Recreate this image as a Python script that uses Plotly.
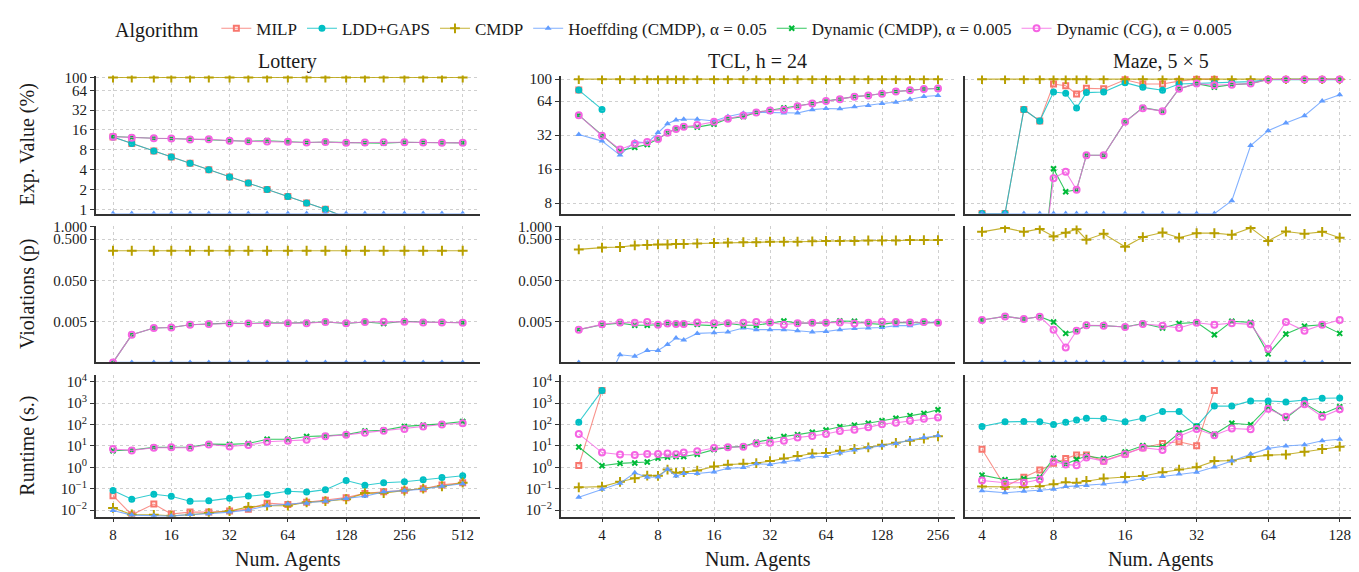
import plotly.graph_objects as go

# ---------------- data ----------------
NAMES = ["MILP", "LDD+GAPS", "CMDP", "Hoeffding (CMDP), α = 0.05",
         "Dynamic (CMDP), α = 0.005", "Dynamic (CG), α = 0.005"]

# Lottery
lot_x = [8, 10, 13, 16, 20, 25, 32, 40, 50, 64, 80, 100, 128, 160, 200, 256, 320, 400, 512]
lot_exp_milp = [12.5, 10.0, 7.7, 6.25, 5.0, 4.0, 3.1, 2.5, 2.0, 1.56, 1.25, 1.0, 0.75, None, None, None, None, None, None]
lot_exp_ldd = [12.5, 10.0, 7.7, 6.25, 5.0, 4.0, 3.1, 2.5, 2.0, 1.56, 1.25, 1.0, 0.75, None, None, None, None, None, None]
lot_exp_cmdp = [100, 100, 100, 100, 100, 100, 100, 100, 100, 100, 100, 100, 100, 100, 100, 100, 100, 100, 100]
lot_exp_hoeff = [0, 0, 0, 0, 0, 0, 0, 0, 0, 0, 0, 0, 0, 0, 0, 0, 0, 0, 0]
lot_exp_dyn = [12.7, 12.3, 12.0, 11.9, 11.6, 11.6, 11.1, 10.8, 11.0, 10.6, 10.3, 10.5, 10.2, 10.2, 10.1, 10.4, 10.3, 10.2, 10.2]
lot_exp_cg = [12.6, 12.2, 12.0, 11.9, 11.5, 11.6, 11.0, 10.8, 10.7, 10.6, 10.3, 10.5, 10.2, 10.3, 10.4, 10.4, 10.3, 10.2, 10.2]

lot_viol_milp = [None] * 19
lot_viol_ldd = [None] * 19
lot_viol_cmdp = [0.26, 0.26, 0.26, 0.26, 0.26, 0.26, 0.26, 0.26, 0.26, 0.26, 0.26, 0.26, 0.26, 0.26, 0.26, 0.26, 0.26, 0.26, 0.26]
lot_viol_hoeff = [0, 0, 0, 0, 0, 0, 0, 0, 0, 0, 0, 0, 0, 0, 0, 0, 0, 0, 0]
lot_viol_dyn = [0, 0.0024, 0.0035, 0.0036, 0.0042, 0.0044, 0.0046, 0.0045, 0.0047, 0.0046, 0.0047, 0.0049, 0.0045, 0.0049, 0.0045, 0.0051, 0.0049, 0.0048, 0.0047]
lot_viol_cg = [0, 0.0024, 0.0035, 0.0036, 0.0042, 0.0044, 0.0045, 0.0045, 0.0046, 0.0046, 0.0046, 0.0049, 0.0046, 0.0049, 0.0050, 0.0050, 0.0048, 0.0048, 0.0047]

lot_rt_milp = [0.047, 0.006, 0.019, 0.0065, 0.008, 0.008, 0.0089, 0.011, 0.021, 0.018, 0.023, 0.029, 0.038, 0.06, 0.071, 0.085, 0.10, 0.15, 0.19]
lot_rt_ldd = [0.082, 0.032, 0.055, 0.044, 0.026, 0.027, 0.036, 0.045, 0.054, 0.076, 0.069, 0.09, 0.24, 0.144, 0.19, 0.21, 0.26, 0.33, 0.40]
lot_rt_cmdp = [0.0126, 0.0062, 0.006, 0.0054, 0.006, 0.0072, 0.009, 0.014, 0.016, 0.016, 0.023, 0.026, 0.032, 0.062, 0.062, 0.082, 0.10, 0.13, 0.19]
lot_rt_hoeff = [0.0095, 0.0058, 0.0054, 0.0052, 0.0062, 0.0067, 0.008, 0.010, 0.016, 0.019, 0.021, 0.026, 0.035, 0.044, 0.071, 0.079, 0.094, 0.13, 0.17]
lot_rt_dyn = [6.0, 6.5, 8.6, 8.6, 8.9, 12.2, 11.8, 13.0, 20.7, 20.7, 27.5, 29.5, 34, 50, 54, 82, 94, 108, 139]
lot_rt_cg = [7.2, 6.2, 8.3, 8.6, 8.3, 11.8, 9.5, 11.0, 15.6, 17.4, 19.3, 28.5, 33, 42, 52, 62, 82, 101, 116]

# TCL, h = 24
tcl_x = [3, 4, 5, 6, 7, 8, 9, 10, 11, 13, 16, 19, 23, 27, 32, 38, 45, 54, 64, 76, 91, 108, 128, 152, 181, 215, 256]
tcl_exp_milp = [80] + [None] * 26
tcl_exp_ldd = [80, 54] + [None] * 25
tcl_exp_cmdp = [100] * 27
tcl_exp_hoeff = [32.4, 28.3, 21.3, 28.0, 27.2, 33.7, 40.3, 43.6, 44.2, 44.2, 42.7, 46.8, 49.9, 50.9, 50.9, 50.2, 50.2, 53.7, 54.9, 54.6, 56.9, 58.5, 60.8, 62.4, 66.4, 70.1, 71.6]
tcl_exp_dyn = [48, 31.6, 23.3, 24.9, 26.4, 29.6, 33.5, 36.3, 37.9, 37.6, 40.0, 44.7, 46.6, 50.8, 52.9, 55.5, 57.7, 60.8, 63.9, 66.5, 70.0, 71.6, 74.4, 77.8, 79.6, 81.9, 82.7]
tcl_exp_cg = [48, 31.6, 23.9, 26.8, 27.8, 29.6, 33.5, 36.3, 37.9, 39.3, 41.9, 44.7, 47.6, 50.8, 52.9, 53.7, 57.7, 60.8, 63.9, 66.5, 70.0, 71.6, 74.4, 77.8, 79.6, 81.9, 82.7]

tcl_viol_milp = [None] * 27
tcl_viol_ldd = [None] * 27
tcl_viol_cmdp = [0.28, 0.31, 0.32, 0.35, 0.36, 0.37, 0.37, 0.38, 0.38, 0.39, 0.40, 0.41, 0.42, 0.42, 0.43, 0.43, 0.43, 0.44, 0.45, 0.45, 0.45, 0.46, 0.46, 0.46, 0.47, 0.47, 0.47]
tcl_viol_hoeff = [0, 0.0001, 0.00079, 0.00073, 0.0010, 0.0010, 0.0014, 0.0020, 0.0018, 0.0026, 0.0027, 0.0028, 0.0035, 0.0032, 0.0032, 0.0032, 0.0030, 0.0028, 0.0029, 0.0032, 0.0034, 0.0035, 0.0036, 0.0040, 0.0040, 0.0046, 0.0050]
tcl_viol_dyn = [0.0032, 0.0042, 0.0046, 0.0041, 0.0041, 0.0042, 0.0045, 0.0044, 0.0044, 0.0043, 0.0040, 0.0045, 0.0041, 0.0041, 0.0047, 0.0052, 0.0046, 0.0047, 0.0046, 0.0052, 0.0051, 0.0045, 0.0043, 0.0048, 0.0047, 0.0048, 0.0047]
tcl_viol_cg = [0.0032, 0.0043, 0.0048, 0.0047, 0.0049, 0.0042, 0.0045, 0.0044, 0.0044, 0.0048, 0.0046, 0.0046, 0.0047, 0.0049, 0.0048, 0.0042, 0.0046, 0.0047, 0.0047, 0.0048, 0.0045, 0.0047, 0.0050, 0.0049, 0.0048, 0.0049, 0.0047]

tcl_rt_milp = [1.2, 3900] + [None] * 25
tcl_rt_ldd = [129, 3900] + [None] * 25
tcl_rt_cmdp = [0.116, 0.125, 0.21, 0.31, 0.41, 0.40, 0.78, 0.55, 0.59, 0.70, 1.1, 1.33, 1.47, 1.58, 1.95, 2.6, 3.4, 4.4, 4.7, 6.0, 7.2, 8.6, 11.4, 14, 17.4, 22.3, 28.5]
tcl_rt_hoeff = [0.04, 0.094, 0.18, 0.55, 0.34, 0.35, 0.81, 0.39, 0.51, 0.51, 0.61, 0.9, 0.97, 1.47, 1.37, 1.76, 2.2, 3.1, 3.3, 4.7, 6.5, 8.3, 10.2, 13, 19.3, 24.8, 30.6]
tcl_rt_dyn = [8.9, 1.19, 1.53, 1.58, 1.76, 2.7, 3.0, 3.2, 3.2, 4.1, 6.7, 8.6, 9.5, 15, 20, 27.5, 34, 43.5, 55.7, 79, 94, 116, 150, 198, 262, 336, 495]
tcl_rt_cg = [36.5, 4.9, 3.96, 3.8, 4.25, 4.25, 4.4, 4.1, 4.9, 5.6, 8.0, 8.6, 9.2, 13, 14, 17.4, 24.8, 29.5, 36.5, 50, 58, 74, 105, 121, 150, 185, 212]

# Maze, 5 x 5
maze_x = [4, 5, 6, 7, 8, 9, 10, 11, 13, 16, 19, 23, 27, 32, 38, 45, 54, 64, 76, 91, 108, 128]
maze_exp_milp = [0, 0, 53.8, 42.7, 90.5, 87.5, 73.8, 82.9, 82.3, 98.6, 90.5, 90.5, 96, 100, 100, None, None, None, None, None, None, None]
maze_exp_ldd = [0, 0, 53.8, 42.7, 77, 75, 55.5, 76, 77, 93, 84.6, 79.7, 90.5, 91.8, 93, 94, 95, 98.6, 98.6, 98.6, 98.6, 98.6]
maze_exp_cmdp = [100] * 22
maze_exp_hoeff = [0, 0, 0, 0, 0, 0, 0, 0, 0, 0, 0, 0, 0, 0, 0, 8.4, 25.9, 35, 41, 47.5, 64.2, 72.8]
maze_exp_dyn = [1.2, 1.2, 1.2, 1.2, 16.1, 10.1, 10.5, 21.2, 21.2, 41.9, 56, 52.1, 82.3, 91.3, 85, 89.4, 91.3, 99.2, 99.5, 99.5, 99.5, 99.5]
maze_exp_cg = [1.5, 1.5, 1.5, 1.5, 13.3, 15.2, 10.5, 21.2, 21.2, 41.9, 55.4, 52.1, 82.3, 91.3, 88.2, 89.4, 91.3, 99.2, 99.5, 99.5, 99.5, 99.5]

maze_viol_milp = [None] * 22
maze_viol_ldd = [None] * 22
maze_viol_cmdp = [0.745, 0.927, 0.745, 0.877, 0.578, 0.706, 0.861, 0.482, 0.668, 0.324, 0.557, 0.719, 0.537, 0.693, 0.693, 0.633, 0.927, 0.449, 0.759, 0.668, 0.745, 0.537]
maze_viol_hoeff = [0] * 21 + [None]
maze_viol_dyn = [0.0055, 0.0067, 0.0058, 0.0066, 0.0049, 0.0026, 0.0030, 0.0040, 0.0040, 0.0037, 0.0045, 0.0035, 0.0045, 0.0048, 0.0024, 0.0051, 0.0048, 0.00083, 0.0025, 0.0039, 0.0042, 0.0026]
maze_viol_cg = [0.0055, 0.0067, 0.0058, 0.0066, 0.0032, 0.00119, 0.0030, 0.0041, 0.0040, 0.0037, 0.0044, 0.0040, 0.0035, 0.0047, 0.0042, 0.0046, 0.0043, 0.0011, 0.0049, 0.0030, 0.0042, 0.0055]

maze_rt_milp = [7.0, 0.125, 0.34, 0.75, 1.53, 2.6, 3.8, 3.8, 2.0, 4.2, 8.3, 13, 15.6, 10.2, 3900, None, None, None, None, None, None, None]
maze_rt_ldd = [82, 134, 139, 134, 101, 130, 166, 198, 191, 134, 198, 405, 405, 82, 731, 731, 1280, 1280, 1150, 1370, 1700, 1760]
maze_rt_cmdp = [0.125, 0.12, 0.12, 0.13, 0.16, 0.20, 0.19, 0.23, 0.30, 0.35, 0.39, 0.59, 0.78, 1.0, 1.95, 2.1, 3.0, 3.7, 3.96, 5.4, 7.2, 9.2]
maze_rt_hoeff = [0.079, 0.064, 0.076, 0.082, 0.094, 0.125, 0.134, 0.139, 0.166, 0.21, 0.30, 0.37, 0.48, 0.59, 1.04, 2.0, 4.2, 7.7, 10, 11.4, 17.4, 20.6]
maze_rt_dyn = [0.43, 0.26, 0.29, 0.34, 2.7, 1.42, 2.3, 3.4, 2.6, 5.2, 10.2, 9.2, 40.5, 82, 35.2, 116, 98, 680, 198, 960, 315, 680]
maze_rt_cg = [0.24, 0.19, 0.19, 0.27, 1.89, 1.37, 1.24, 2.9, 1.95, 4.1, 8.3, 6.5, 28.5, 62, 31.8, 66, 60, 550, 235, 900, 235, 515]

# tick labels
lot_xticks = [8, 16, 32, 64, 128, 256, 512]
tcl_xticks = [4, 8, 16, 32, 64, 128, 256]
maze_xticks = [4, 8, 16, 32, 64, 128]
lot_exp_ticks = [1, 2, 4, 8, 16, 32, 64, 100]
env_exp_ticks = [8, 16, 32, 64, 100]
viol_ticks = [0.005, 0.05, 0.5, 1.0]
viol_ticktext = ["0.005", "0.050", "0.500", "1.000"]
rt_ticks = [1e-2, 1e-1, 1, 10, 100, 1000, 10000]
rt_ticktext = ["10<sup>−2</sup>", "10<sup>−1</sup>", "10<sup>0</sup>", "10<sup>1</sup>",
               "10<sup>2</sup>", "10<sup>3</sup>", "10<sup>4</sup>"]

# ---------------- styling ----------------
COLORS = ["#F8766D", "#00BFC4", "#B79F00", "#619CFF", "#00BA38", "#F564E3"]
LINE_COLORS = ["rgba(248,118,109,0.8)", "rgba(0,191,196,0.8)", "rgba(183,159,0,0.8)",
               "rgba(97,156,255,0.8)", "rgba(0,186,56,0.8)", "rgba(245,100,227,0.8)"]
SYMBOLS = ["square-open", "circle-open-dot", "cross-thin-open", "triangle-up", "x-thin-open", "circle-open"]
MSIZE = [5, 5, 7, 6, 5, 6]
MLW = [2, 2, 2, 0, 2, 2]
FONT = "Liberation Serif, Times New Roman, serif"
W, H = 1359, 572

col_px = [(87.7, 471.7), (552.7, 946.7), (956.7, 1349.0)]
row_px = [(61.7, 202.5), (214.7, 354.2), (366.7, 511.5)]
xranges = [[0.8137, 2.797], [0.380, 2.498], [0.5292, 2.180]]
xs = [lot_x, tcl_x, maze_x]
xticks = [lot_xticks, tcl_xticks, maze_xticks]

yranges = [
    [[-0.0645, 2.03], [0.8107, 2.032], [0.8107, 2.032]],
    [[-3.287, 0.024], [-3.287, 0.024], [-3.287, 0.024]],
    [[-2.31, 4.337], [-2.31, 4.337], [-2.31, 4.337]],
]

series = [
    [  # exp value
        [lot_exp_milp, lot_exp_ldd, lot_exp_cmdp, lot_exp_hoeff, lot_exp_dyn, lot_exp_cg],
        [tcl_exp_milp, tcl_exp_ldd, tcl_exp_cmdp, tcl_exp_hoeff, tcl_exp_dyn, tcl_exp_cg],
        [maze_exp_milp, maze_exp_ldd, maze_exp_cmdp, maze_exp_hoeff, maze_exp_dyn, maze_exp_cg],
    ],
    [  # violations
        [lot_viol_milp, lot_viol_ldd, lot_viol_cmdp, lot_viol_hoeff, lot_viol_dyn, lot_viol_cg],
        [tcl_viol_milp, tcl_viol_ldd, tcl_viol_cmdp, tcl_viol_hoeff, tcl_viol_dyn, tcl_viol_cg],
        [maze_viol_milp, maze_viol_ldd, maze_viol_cmdp, maze_viol_hoeff, maze_viol_dyn, maze_viol_cg],
    ],
    [  # runtime
        [lot_rt_milp, lot_rt_ldd, lot_rt_cmdp, lot_rt_hoeff, lot_rt_dyn, lot_rt_cg],
        [tcl_rt_milp, tcl_rt_ldd, tcl_rt_cmdp, tcl_rt_hoeff, tcl_rt_dyn, tcl_rt_cg],
        [maze_rt_milp, maze_rt_ldd, maze_rt_cmdp, maze_rt_hoeff, maze_rt_dyn, maze_rt_cg],
    ],
]

fig = go.Figure()
layout = dict(
    width=W, height=H, margin=dict(l=0, r=0, t=0, b=0),
    paper_bgcolor="white", plot_bgcolor="white",
    font=dict(family=FONT, size=15, color="#1a1a1a"),
    showlegend=True,
)
TICKFONT = dict(family=FONT, size=15, color="#1a1a1a")

for r in range(3):
    for c in range(3):
        idx = r * 3 + c + 1
        xname = "x" if idx == 1 else f"x{idx}"
        yname = "y" if idx == 1 else f"y{idx}"
        lo_log = yranges[r][c][0]
        floor = 10 ** lo_log  # zero values sit on the panel edge (log of 0 = -inf)
        for k in range(6):
            vals = series[r][c][k]
            yv = [None if v is None else (floor if v == 0 else v) for v in vals]
            fig.add_trace(go.Scatter(
                x=xs[c], y=yv, mode="lines+markers", name=NAMES[k],
                legendgroup=NAMES[k], showlegend=(idx == 1),
                line=dict(color=LINE_COLORS[k], width=1.1),
                marker=dict(symbol=SYMBOLS[k], size=MSIZE[k], color=COLORS[k],
                            line=dict(color=COLORS[k], width=MLW[k])),
                xaxis=xname, yaxis=yname,
            ))
        x0, x1 = col_px[c]
        y0, y1 = row_px[r]
        xax = dict(
            domain=[x0 / W, x1 / W], type="log", range=xranges[c],
            tickvals=xticks[c], ticktext=[str(t) for t in xticks[c]],
            showticklabels=(r == 2), ticks="outside" if r == 2 else "",
            ticklen=4, tickcolor="#333333", tickfont=TICKFONT,
            showline=True, linecolor="#333333", linewidth=1.5,
            showgrid=True, gridcolor="#cfcfcf", griddash="dot", gridwidth=1,
            zeroline=False, anchor=yname, fixedrange=True,
        )
        if r == 0:
            yt, ytt = (lot_exp_ticks if c == 0 else env_exp_ticks), None
        elif r == 1:
            yt, ytt = viol_ticks, viol_ticktext
        else:
            yt, ytt = rt_ticks, rt_ticktext
        yax = dict(
            domain=[1 - y1 / H, 1 - y0 / H], type="log", range=yranges[r][c],
            tickvals=yt, ticktext=ytt if ytt else [str(t) for t in yt],
            showticklabels=(c < 2), ticks="outside" if c < 2 else "",
            ticklen=4, tickcolor="#333333", tickfont=TICKFONT,
            showline=True, linecolor="#333333", linewidth=1.5,
            showgrid=True, gridcolor="#cfcfcf", griddash="dot", gridwidth=1,
            zeroline=False, anchor=xname, fixedrange=True,
        )
        layout["xaxis" if idx == 1 else f"xaxis{idx}"] = xax
        layout["yaxis" if idx == 1 else f"yaxis{idx}"] = yax

annotations = []
titles = ["Lottery", "TCL, h = 24", "Maze, 5 × 5"]
for c in range(3):
    cx = (col_px[c][0] + col_px[c][1]) / 2 / W
    annotations.append(dict(text=titles[c], x=cx, y=1 - 47 / H, xref="paper", yref="paper",
                            showarrow=False, font=dict(size=20, family=FONT, color="#1a1a1a"),
                            xanchor="center", yanchor="middle"))
    annotations.append(dict(text="Num. Agents", x=cx, y=1 - 555 / H, xref="paper", yref="paper",
                            showarrow=False, font=dict(size=20, family=FONT, color="#1a1a1a"),
                            xanchor="center", yanchor="middle"))
ytitles = ["Exp. Value (%)", "Violations (p)", "Runtime (s.)"]
for r in range(3):
    cy = 1 - (row_px[r][0] + row_px[r][1]) / 2 / H
    annotations.append(dict(text=ytitles[r], x=20 / W, y=cy, xref="paper", yref="paper", textangle=-90,
                            showarrow=False, font=dict(size=20, family=FONT, color="#1a1a1a"),
                            xanchor="center", yanchor="middle"))
layout["annotations"] = annotations
layout["legend"] = dict(
    orientation="h", x=105 / W, xanchor="left", y=1 - 14 / H, yanchor="middle",
    title=dict(text="Algorithm  ", font=dict(size=20, family=FONT, color="#1a1a1a"), side="left"),
    font=dict(size=17, family=FONT, color="#1a1a1a"), itemwidth=30, bgcolor="rgba(0,0,0,0)",
    tracegroupgap=0,
)
fig.update_layout(**layout)
fig.write_html("out.html")
